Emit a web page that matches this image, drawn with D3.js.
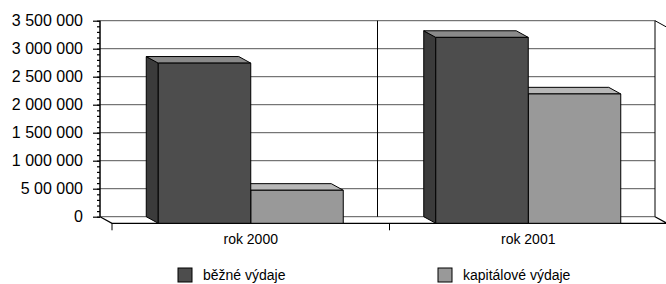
<!DOCTYPE html>
<html>
<head>
<meta charset="utf-8">
<script src="https://cdn.jsdelivr.net/npm/d3@7"></script>
<style>
  body { margin: 0; background: #fff; }
  text { font-family: "Liberation Sans", Arial, sans-serif; fill: #000; }
</style>
</head>
<body>
<svg class="chart"></svg>
<script>
// data
var years = ["rok 2000", "rok 2001"];
var seriesNames = ["běžné výdaje", "kapitálové výdaje"];
var bezne = [2860000, 3320000];
var kapitalove = [590000, 2310000];
var tickValues = [0, 500000, 1000000, 1500000, 2000000, 2500000, 3000000, 3500000];
var tickLabels = ["0", "5 00 000", "1 000 000", "1 500 000", "2 000 000", "2 500 000", "3 000 000", "3 500 000"];

var W = 666, H = 284;
var chart = d3.select(".chart").attr("width", W).attr("height", H);

// back wall + 3d depth offset
var wallL = 100, wallR = 655, wallT = 20.7, wallB = 216.7;
var dx = 12, dy = 6.6;
var colors = { side: ["#3b3b3b", "#7a7a7a"], front: ["#4d4d4d", "#999999"], top: ["#8a8a8a", "#b8b8b8"] };

var y = d3.scaleLinear().domain([0, 3500000]).range([wallB, wallT]);
var xBand = d3.scaleBand().domain(years).range([wallL, wallR]);
var xSer = d3.scaleBand().domain([0, 1]).range([0, xBand.bandwidth()]).paddingOuter(0.5).paddingInner(0);

// gridlines on back wall
chart.append("g").selectAll("line").data(tickValues).enter().append("line")
    .attr("x1", wallL).attr("x2", wallR)
    .attr("y1", d => y(d)).attr("y2", d => y(d))
    .attr("stroke", "#555").attr("stroke-width", 1);

// vertical category divider on back wall + wall edges
chart.append("line").attr("x1", xBand(years[1])).attr("x2", xBand(years[1]))
    .attr("y1", wallT).attr("y2", wallB).attr("stroke", "#000");
chart.append("line").attr("x1", wallR).attr("x2", wallR)
    .attr("y1", wallT).attr("y2", wallB).attr("stroke", "#000");
chart.append("line").attr("x1", wallR).attr("x2", wallR + dx)
    .attr("y1", wallT).attr("y2", wallT + dy).attr("stroke", "#000");

// floor
var floorY = wallB + dy;
chart.append("path")
    .attr("d", "M" + wallL + "," + wallB + "L" + (wallL + dx) + "," + floorY + "L" + (wallR + dx) + "," + floorY + "M" + wallR + "," + wallB + "L" + (wallR + dx) + "," + floorY)
    .attr("fill", "none").attr("stroke", "#000").attr("stroke-width", 1.2);

// front category ticks
var edges = [xBand(years[0]), xBand(years[1]), wallR];
chart.append("g").selectAll("line").data(edges).enter().append("line")
    .attr("x1", d => d + dx).attr("x2", d => d + dx)
    .attr("y1", floorY).attr("y2", floorY + 7).attr("stroke", "#000");

// bars - light series first so the dark one covers its side face
var bars = [];
years.forEach(function (yr, i) {
    bars.push({ cat: yr, s: 1, v: kapitalove[i] });
    bars.push({ cat: yr, s: 0, v: bezne[i] });
});

var g = chart.append("g").attr("stroke", "#000").attr("stroke-width", 1).attr("stroke-linejoin", "round");
bars.forEach(function (b) {
    var x0 = xBand(b.cat) + xSer(b.s) + dx;
    var x1 = x0 + xSer.bandwidth();
    var yb = y(b.v);
    var yf = yb + dy;
    // side
    g.append("path").attr("fill", colors.side[b.s])
        .attr("d", "M" + (x0 - dx) + "," + yb + "L" + x0 + "," + yf + "L" + x0 + "," + floorY + "L" + (x0 - dx) + "," + wallB + "Z");
    // top
    g.append("path").attr("fill", colors.top[b.s])
        .attr("d", "M" + (x0 - dx) + "," + yb + "L" + (x1 - dx) + "," + yb + "L" + x1 + "," + yf + "L" + x0 + "," + yf + "Z");
    // front
    g.append("rect").attr("fill", colors.front[b.s])
        .attr("x", x0).attr("y", yf).attr("width", x1 - x0).attr("height", floorY - yf);
});

// y axis with minor ticks
var minor = d3.range(0, 3500001, 100000);
chart.append("g").attr("transform", "translate(" + wallL + ",0)")
    .call(d3.axisLeft(y).tickValues(minor).tickSize(3).tickFormat(""))
    .call(a => a.select(".domain").remove())
    .selectAll("line").attr("stroke", "#000").attr("stroke-width", 1.2);

var yAxis = chart.append("g").attr("transform", "translate(" + wallL + ",0)")
    .call(d3.axisLeft(y).tickValues(tickValues).tickSize(7).tickPadding(10)
        .tickFormat((d, i) => tickLabels[i]));
yAxis.select(".domain").attr("stroke", "#000").attr("stroke-width", 1.5).attr("d", "M0," + wallT + "V" + wallB);
yAxis.selectAll("line").attr("stroke", "#000").attr("stroke-width", 1.2);
yAxis.selectAll("text").attr("font-size", 16).attr("font-family", "Liberation Sans, Arial, sans-serif").attr("fill", "#000");

// category labels
chart.append("g").selectAll("text").data(years).enter().append("text")
    .attr("x", d => xBand(d) + xBand.bandwidth() / 2 + dx)
    .attr("y", 244)
    .attr("text-anchor", "middle")
    .attr("font-size", 14)
    .text(d => d);

// legend
var legendX = [178, 438];
var leg = chart.append("g").selectAll("g").data(seriesNames).enter().append("g")
    .attr("transform", (d, i) => "translate(" + legendX[i] + ",268)");
leg.append("rect").attr("width", 14).attr("height", 14)
    .attr("fill", (d, i) => colors.front[i]).attr("stroke", "#000");
leg.append("text").attr("x", 25).attr("y", 12).attr("font-size", 14).text(d => d);
</script>
</body>
</html>
